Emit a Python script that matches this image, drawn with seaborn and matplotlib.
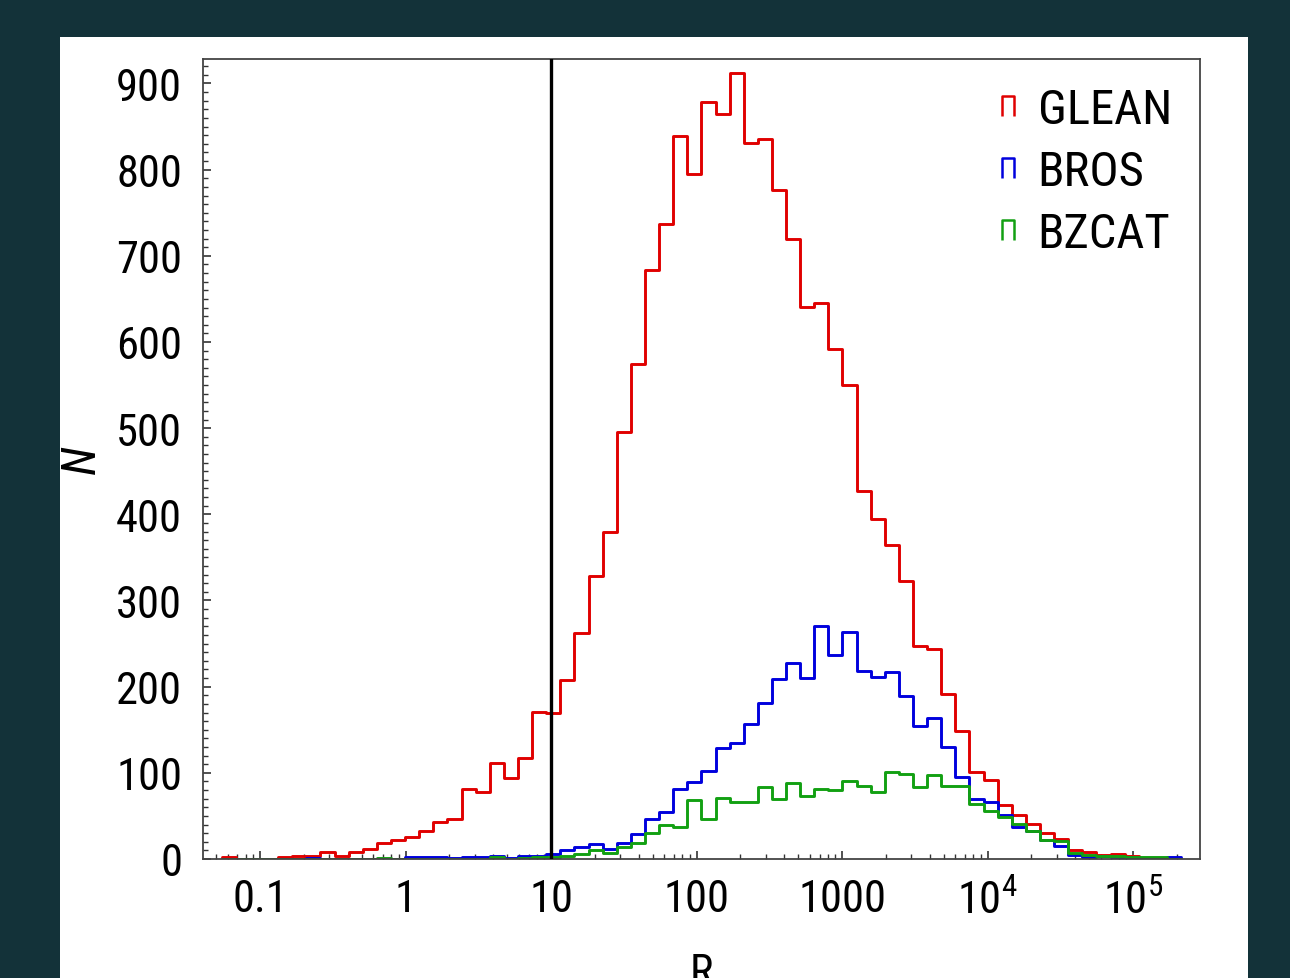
import numpy as np
import pandas as pd
import matplotlib
matplotlib.use("Agg")
import matplotlib.pyplot as plt
import seaborn as sns
from matplotlib import font_manager
from matplotlib.path import Path
from matplotlib.lines import Line2D
from matplotlib.patches import Rectangle
from matplotlib.ticker import LogLocator, MultipleLocator, NullFormatter

# ---------------- data ----------------
# histogram binning in log10(R)
BIN_LOG_START = -1.2637
BIN_LOG_WIDTH = 0.09697

glean = [2, 0, 0, 0, 2, 4, 4, 8, 4, 8, 12, 18, 22, 26, 33, 43, 47, 81, 78, 111,
         94, 117, 171, 169, 208, 262, 328, 379, 495, 575, 683, 737, 839, 795, 878, 865, 912, 831, 835, 776,
         720, 641, 645, 592, 550, 427, 394, 364, 323, 247, 244, 192, 149, 101, 92, 63, 51, 41, 30, 23,
         10, 8, 5, 6, 3, 1, 0, 0]
bros = [0, 0, 0, 0, 0, 0, 1, 0, 0, 0, 0, 0, 0, 2, 2, 2, 1, 2, 2, 3,
        1, 3, 4, 6, 11, 14, 17, 12, 19, 29, 46, 54, 81, 89, 102, 129, 135, 157, 181, 209,
        228, 210, 270, 237, 264, 218, 211, 217, 189, 154, 164, 130, 95, 70, 66, 51, 37, 33, 22, 15,
        5, 2, 3, 2, 2, 1, 1, 2]
bzcat = [0, 0, 0, 0, 0, 0, 0, 0, 0, 0, 0, 1, 0, 0, 0, 0, 0, 0, 0, 2,
         0, 1, 2, 2, 3, 6, 11, 7, 14, 19, 30, 39, 37, 69, 47, 71, 66, 66, 83, 70,
         88, 73, 81, 80, 90, 85, 78, 101, 99, 84, 97, 85, 85, 64, 56, 49, 41, 33, 22, 21,
         7, 5, 3, 3, 2, 2, 2, 0]

series_names = ["GLEAN", "BROS", "BZCAT"]
series_counts = [glean, bros, bzcat]
series_colors = ["#e00000", "#0000dd", "#12a012"]

x_tick_values = [0.1, 1, 10, 100, 1000, 1e4, 1e5]
x_tick_labels = ["0.1", "1", "10", "100", "1000", r"$10^4$", r"$10^5$"]
y_tick_values = [0, 100, 200, 300, 400, 500, 600, 700, 800, 900]
threshold_R = 10
x_label = "R"
y_label = "N"

# ---------------- style ----------------
sns.set_theme(style="ticks")
installed = {f.name for f in font_manager.fontManager.ttflist}
narrow_candidates = ["Liberation Sans Narrow", "Roboto Condensed", "Open Sans Condensed",
                     "DejaVu Sans Condensed", "Noto Sans Condensed"]
narrow = [f for f in narrow_candidates if f in installed]
main_font = narrow[0] if narrow else "DejaVu Sans"
condensed = bool(narrow)
plt.rcParams["font.family"] = [main_font, "DejaVu Sans"]
plt.rcParams["font.stretch"] = "condensed"
plt.rcParams["mathtext.fontset"] = "custom"
plt.rcParams["mathtext.rm"] = main_font
plt.rcParams["mathtext.it"] = main_font + ":italic"
plt.rcParams["mathtext.default"] = "regular"

fs_tick = 32 if condensed else 27
fs_leg = 35 if condensed else 30

W, H = 1290, 979
fig = plt.figure(figsize=(W / 100, H / 100), dpi=100, facecolor="#133239")
fig.patches.append(Rectangle((60 / W, 0), (1248 - 60) / W, (H - 38) / H,
                             transform=fig.transFigure, facecolor="white",
                             edgecolor="none", zorder=-10))
ax = fig.add_axes([203 / W, (H - 860) / H, (1200 - 203) / W, (860 - 59.5) / H])
ax.set_zorder(2)
ax.set_facecolor("white")

edges = BIN_LOG_START + BIN_LOG_WIDTH * np.arange(len(glean) + 1)
centers = 10 ** (edges[:-1] + BIN_LOG_WIDTH / 2)
bin_edges = [float(e) for e in edges]

for name, counts, color in zip(series_names, series_counts, series_colors):
    df = pd.DataFrame({"R": centers, "N": counts})
    sns.histplot(data=df, x="R", weights="N", bins=bin_edges, log_scale=True,
                 element="step", fill=False, color=color, linewidth=2.1, ax=ax)

ax.axvline(threshold_R, color="black", linewidth=2.4, zorder=5)

ax.set_xlim(10 ** -1.392, 10 ** 5.46)
ax.set_ylim(0, 929)

ax.set_xticks(x_tick_values)
ax.set_xticklabels(x_tick_labels)
ax.xaxis.set_minor_locator(LogLocator(base=10, subs=np.arange(2, 10), numticks=50))
ax.xaxis.set_minor_formatter(NullFormatter())
ax.set_yticks(y_tick_values)
ax.yaxis.set_minor_locator(MultipleLocator(10))

ax.tick_params(which="both", direction="in", top=False, right=False,
               colors="#333333", labelcolor="black")
ax.tick_params(which="major", length=6, width=1.2, labelsize=fs_tick, pad=15)
ax.tick_params(which="minor", length=3.5, width=1.0)
ax.tick_params(axis="x", which="major", pad=14)

for s in ax.spines.values():
    s.set_linewidth(1.3)
    s.set_color("#444444")

ax.set_xlabel(x_label, fontsize=fs_tick, labelpad=22, color="black")
ax.set_ylabel(y_label, fontsize=fs_tick + 2, labelpad=8, color="black", style="italic")

cap = Path([(-0.3, -0.5), (-0.3, 0.5), (0.3, 0.5), (0.3, -0.5)],
           [Path.MOVETO, Path.LINETO, Path.LINETO, Path.LINETO])
handles = [Line2D([], [], linestyle="none", marker=cap, markersize=14,
                  markeredgecolor=c, markerfacecolor="none", markeredgewidth=1.8)
           for c in series_colors]
leg = ax.legend(handles, series_names, loc="upper right", frameon=False, fontsize=fs_leg,
                handlelength=0.6, handletextpad=0.3, labelspacing=0.33,
                borderaxespad=0.18)
for t in leg.get_texts():
    t.set_color("black")

fig.savefig("out.png", dpi=100, facecolor=fig.get_facecolor())
